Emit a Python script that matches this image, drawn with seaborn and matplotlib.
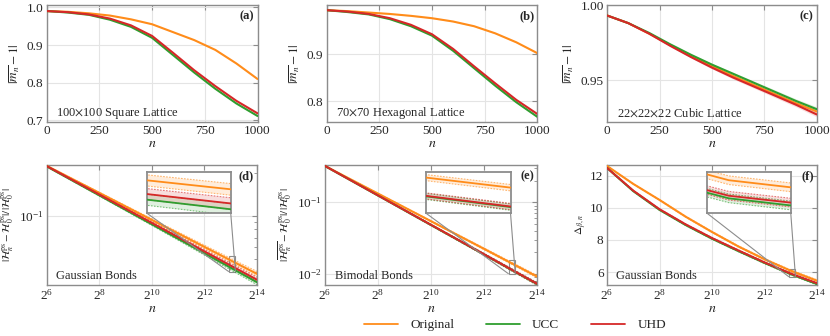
import numpy as np
import pandas as pd
import matplotlib
matplotlib.use('Agg')
import matplotlib.pyplot as plt
import seaborn as sns
from matplotlib.ticker import NullFormatter, NullLocator, FixedLocator
from mpl_toolkits.axes_grid1.inset_locator import mark_inset

# ---------------- data ----------------
methods = ['Original', 'UCC', 'UHD']
colors = {'Original': '#ff8c1a', 'UCC': '#2f9e2f', 'UHD': '#d62728'}

steps = [0, 100, 200, 300, 400, 500, 600, 700, 800, 900, 1000]

# (a) 100x100 square lattice
square = {
    'Original': [0.990, 0.988, 0.984, 0.978, 0.968, 0.955, 0.934, 0.913, 0.887, 0.851, 0.810],
    'UCC':      [0.990, 0.986, 0.980, 0.967, 0.948, 0.919, 0.873, 0.827, 0.784, 0.745, 0.712],
    'UHD':      [0.990, 0.987, 0.981, 0.970, 0.952, 0.924, 0.879, 0.833, 0.791, 0.752, 0.719],
}
# (b) 70x70 hexagonal lattice
hexagonal = {
    'Original': [0.993, 0.991, 0.988, 0.985, 0.981, 0.976, 0.969, 0.959, 0.944, 0.925, 0.902],
    'UCC':      [0.993, 0.989, 0.984, 0.974, 0.959, 0.939, 0.907, 0.870, 0.833, 0.798, 0.767],
    'UHD':      [0.993, 0.990, 0.985, 0.976, 0.962, 0.942, 0.911, 0.874, 0.838, 0.803, 0.773],
}
# (c) 22x22x22 cubic lattice
cubic = {
    'Original': [0.993, 0.988, 0.981, 0.9735, 0.966, 0.9595, 0.953, 0.947, 0.941, 0.935, 0.9295],
    'UCC':      [0.993, 0.988, 0.9815, 0.974, 0.967, 0.9605, 0.9545, 0.9485, 0.9425, 0.9365, 0.931],
    'UHD':      [0.993, 0.988, 0.981, 0.973, 0.9655, 0.9585, 0.952, 0.946, 0.940, 0.934, 0.9275],
}
lin_band = [0.0, 0.0002, 0.0003, 0.0005, 0.0006, 0.0008, 0.0010, 0.0011, 0.0013, 0.0014, 0.0016]

n_log = [64, 128, 256, 512, 1024, 2048, 4096, 8192, 16384]

# (d) Gaussian bonds, relative energy error
gauss_err = {
    'Original': [0.223, 0.1794, 0.1443, 0.1160, 0.0933, 0.0751, 0.0604, 0.0486, 0.0391],
    'UCC':      [0.221, 0.1750, 0.1386, 0.1098, 0.0870, 0.0689, 0.0545, 0.0432, 0.0342],
    'UHD':      [0.222, 0.1766, 0.1405, 0.1117, 0.0889, 0.0707, 0.0562, 0.0447, 0.0356],
}
# (e) bimodal bonds, relative energy error
bimodal_err = {
    'Original': [0.321, 0.2059, 0.1321, 0.0847, 0.0544, 0.0349, 0.0224, 0.01434, 0.0092],
    'UCC':      [0.320, 0.1993, 0.1241, 0.0773, 0.0481, 0.0300, 0.0187, 0.01163, 0.00724],
    'UHD':      [0.321, 0.2000, 0.1246, 0.0777, 0.0484, 0.0302, 0.0188, 0.01170, 0.00729],
}
log_band = [0.004, 0.007, 0.010, 0.014, 0.018, 0.023, 0.028, 0.034, 0.040]

# (f) Gaussian bonds, Delta_{beta,n}
gauss_delta = {
    'Original': [12.62, 11.50, 10.50, 9.45, 8.50, 7.60, 6.80, 6.08, 5.46],
    'UCC':      [12.50, 11.05, 9.88, 8.93, 8.08, 7.31, 6.57, 5.87, 5.25],
    'UHD':      [12.50, 11.08, 9.92, 8.97, 8.12, 7.35, 6.60, 5.90, 5.30],
}
delta_band = [0.01, 0.02, 0.025, 0.03, 0.035, 0.04, 0.045, 0.05, 0.055]

# ---------------- style ----------------
sns.set_theme(style='white')
plt.rcParams['font.family'] = ['Liberation Serif', 'DejaVu Serif']
plt.rcParams['mathtext.fontset'] = 'stix'
plt.rcParams['axes.unicode_minus'] = True

W, H = 830, 336
fig = plt.figure(figsize=(W / 100, H / 100), dpi=100)


def px_axes(x0, y0, x1, y1):
    return fig.add_axes([x0 / W, 1 - y1 / H, (x1 - x0) / W, (y1 - y0) / H])


def style_axes(ax):
    for s in ax.spines.values():
        s.set_color('#8c8c8c')
        s.set_linewidth(1.0)
    ax.tick_params(which='both', direction='in', top=True, right=True,
                   color='#8c8c8c', labelsize=9.5, pad=2.5)
    ax.tick_params(which='major', length=3.5, width=0.8)
    ax.tick_params(which='minor', length=2, width=0.6)
    ax.grid(True, which='major', color='#e4e4e4', lw=0.8)
    ax.set_axisbelow(True)


def draw(ax, x, series, band, log=False, lw=1.5, edges=True):
    rows = []
    for m in methods:
        for xi, yi in zip(x, series[m]):
            rows.append({'n': xi, 'value': yi, 'method': m})
    df = pd.DataFrame(rows)
    b = np.array(band)
    for m in methods:
        y = np.array(series[m])
        lo, hi = (y * (1 - b), y * (1 + b)) if log else (y - b, y + b)
        ax.fill_between(x, lo, hi, color=colors[m], alpha=0.15, lw=0, zorder=2)
        if edges:
            for e in (lo, hi):
                ax.plot(x, e, color=colors[m], lw=0.8, alpha=0.6,
                        ls=(0, (1.5, 1.2)), zorder=2)
    sns.lineplot(data=df, x='n', y='value', hue='method', hue_order=methods,
                 palette=colors, ax=ax, legend=False, lw=lw, zorder=3)
    ax.set_xlabel('')
    ax.set_ylabel('')


def add_inset(ax, x, series, band, xlim, ylim, log=False):
    axins = ax.inset_axes([0.475, 0.60, 0.40, 0.345])
    if log:
        axins.set_xscale('log', base=2)
        axins.set_yscale('log')
    draw(axins, x, series, band, log=log, lw=1.3)
    axins.set_xlim(*xlim)
    axins.set_ylim(*ylim)
    axins.xaxis.set_major_locator(NullLocator())
    axins.xaxis.set_minor_locator(NullLocator())
    axins.yaxis.set_major_locator(NullLocator())
    axins.yaxis.set_minor_locator(NullLocator())
    for s in axins.spines.values():
        s.set_color('#8c8c8c')
        s.set_linewidth(1.3)
    axins.set_facecolor('white')
    mark_inset(ax, axins, loc1=3, loc2=4, fc='none', ec='#8c8c8c', lw=0.8)
    return axins


mag_label = r'$|\overline{m_n}-1|$'
en_label = r'$|\overline{\mathcal{H}_n^{\rm ps}}-\mathcal{H}_0^{\rm ps}|/|\mathcal{H}_0^{\rm ps}|$'

# ---------------- top row ----------------
top = [
    ((46.7, 5, 257.5, 122), square, (0.696, 1.006), [0.7, 0.8, 0.9, 1.0], '%.1f',
     r'100$\times$100 Square Lattice', '(a)'),
    ((326.7, 5, 537.3, 122), hexagonal, (0.756, 1.004), [0.8, 0.9], '%.1f',
     r'70$\times$70 Hexagonal Lattice', '(b)'),
    ((607.3, 5, 816.7, 122), cubic, (0.9225, 1.0), [0.95, 1.00], '%.2f',
     r'22$\times$22$\times$22 Cubic Lattice', '(c)'),
]
for box, data, ylim, yt, fmt, txt, tag in top:
    ax = px_axes(*box)
    style_axes(ax)
    draw(ax, steps, data, lin_band, edges=False)
    ax.set_xlim(0, 1000)
    ax.set_ylim(*ylim)
    ax.set_xticks([0, 250, 500, 750, 1000])
    ax.set_yticks(yt)
    ax.yaxis.set_major_formatter(matplotlib.ticker.FormatStrFormatter(fmt))
    ax.set_xlabel(r'$n$', fontsize=10, labelpad=0)
    ax.set_ylabel(mag_label, fontsize=9.5, labelpad=3)
    ax.text(0.045, 0.075, txt, transform=ax.transAxes, fontsize=9, va='center')
    ax.text(0.985, 0.955, tag, transform=ax.transAxes, fontsize=9,
            fontweight='bold', ha='right', va='top')

# ---------------- bottom row ----------------
bottom = [
    ((46.7, 165, 257, 285), gauss_err, log_band, (0.0327, 0.226), True,
     en_label, -0.145, 'Gaussian Bonds', '(d)', (0.0405, 0.052)),
    ((325, 165, 537, 285), bimodal_err, log_band, (0.0070, 0.331), True,
     en_label, -0.145, 'Bimodal Bonds', '(e)', (0.0100, 0.0158)),
    ((607, 165, 817, 285), gauss_delta, delta_band, (5.19, 12.68), False,
     r'$\Delta_{\beta,n}$', -0.085, 'Gaussian Bonds', '(f)', (5.70, 6.18)),
]
log_ticks = [2 ** 6, 2 ** 8, 2 ** 10, 2 ** 12, 2 ** 14]
for box, data, band, ylim, logy, ylab, ylab_x, txt, tag, inset_y in bottom:
    ax = px_axes(*box)
    ax.set_xscale('log', base=2)
    if logy:
        ax.set_yscale('log')
    style_axes(ax)
    draw(ax, n_log, data, band, log=logy)
    ax.set_xlim(2 ** 6, 2 ** 14)
    ax.set_ylim(*ylim)
    ax.xaxis.set_major_locator(FixedLocator(log_ticks))
    ax.xaxis.set_minor_locator(NullLocator())
    if logy:
        ax.yaxis.set_minor_formatter(NullFormatter())
    else:
        ax.set_yticks([6, 8, 10, 12])
    ax.set_xlabel(r'$n$', fontsize=10, labelpad=-1)
    ax.set_ylabel(ylab, fontsize=8)
    ax.yaxis.set_label_coords(ylab_x, 0.5)
    ax.text(0.045, 0.075, txt, transform=ax.transAxes, fontsize=9, va='center')
    ax.text(0.985, 0.955, tag, transform=ax.transAxes, fontsize=9,
            fontweight='bold', ha='right', va='top')
    add_inset(ax, n_log, data, band, (2 ** 12.93, 2 ** 13.18), inset_y, log=logy)

# ---------------- legend ----------------
handles = [plt.Line2D([], [], color=colors[m], lw=1.3) for m in methods]
fig.legend(handles, methods, loc='center', bbox_to_anchor=(515 / W, 1 - 325 / H),
           ncol=3, frameon=False, fontsize=9.5, handlelength=2.6,
           columnspacing=2.4, handletextpad=0.9, borderpad=0.1)

fig.savefig('out.png', dpi=100)
